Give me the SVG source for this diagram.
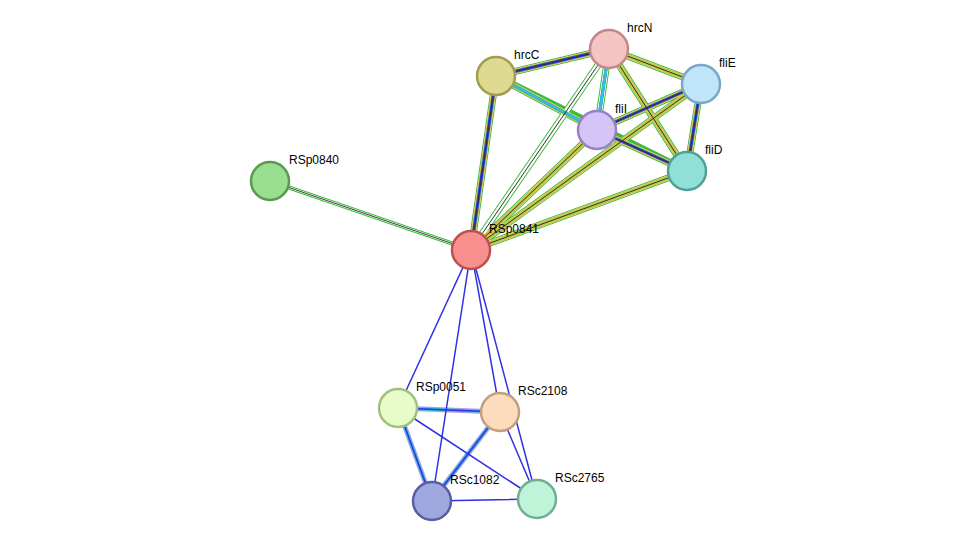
<svg xmlns="http://www.w3.org/2000/svg" width="976" height="547" viewBox="0 0 976 547">
<style>
.n{stroke-width:2.5}
text{font-family:"Liberation Sans",Arial,sans-serif;font-size:12px;fill:#000}
.g{stroke:#3cbc3c;stroke-width:7}
.y{stroke:#c8c848;stroke-width:5}
.b{stroke:#3838e0;stroke-width:3}
.k{stroke:#303030;stroke-width:1}
.c{stroke:#30c0d8;stroke-width:3}
.l{stroke:#b0a0e8;stroke-width:5}
.s{stroke:#3030e8;stroke-width:1.5}
</style>
<rect width="976" height="547" fill="#fff"/>
<g id="connectors" fill="none">
<g id="e-top">
<path class="g" d="M471,250L496,76M471,250L609,49M471,250L597,130M471,250L701,84M471,250L687,171M496,76L609,49M496,76L597,130M609,49L597,130M609,49L701,84M609,49L687,171M597,130L701,84M597,130L687,171M701,84L687,171M496,76L687,171"/>
<path stroke="#fff" stroke-width="5" d="M471,250L496,76M471,250L609,49M471,250L597,130M471,250L701,84M471,250L687,171M496,76L609,49M496,76L597,130M609,49L597,130M609,49L701,84M609,49L687,171M597,130L701,84M597,130L687,171M701,84L687,171"/>
<path class="y" stroke-width="4" d="M471,250L496,76M471,250L597,130M471,250L701,84M471,250L687,171M496,76L609,49M496,76L597,130M609,49L701,84M609,49L687,171M597,130L701,84M597,130L687,171M701,84L687,171"/>
<path class="b" d="M471,250L496,76M496,76L609,49M496,76L597,130M609,49L597,130M597,130L701,84M597,130L687,171M701,84L687,171"/>
<path class="c" stroke-width="1.5" d="M496,76L597,130M609,49L597,130"/>
<path class="k" d="M471,250L496,76M471,250L609,49M471,250L597,130M471,250L701,84M471,250L687,171M496,76L609,49M609,49L701,84M609,49L687,171M597,130L701,84M597,130L687,171M701,84L687,171"/>
</g>
<path stroke="#3cbc3c" stroke-width="4" d="M471,250L270,181"/>
<path stroke="#fff" stroke-width="2" d="M471,250L270,181"/>
<path stroke="#404040" stroke-width="1" d="M471,250L270,181"/>
<g id="e-bottom">
<path class="l" d="M398,408L500,412M398,408L432,501M500,412L432,501"/>
<path class="c" d="M398,408L500,412M398,408L432,501M500,412L432,501"/>
<path class="s" d="M398,408L500,412M398,408L432,501M500,412L432,501M471,250L398,408M471,250L432,501M471,250L500,412M471,250L537,499M398,408L537,499M500,412L537,499M432,501L537,499"/>
</g>
</g>
<g id="hrcN"><circle class="n" cx="609" cy="49" r="19" fill="#f7c4c4" stroke="#c08888"/><text x="627" y="32">hrcN</text></g>
<g id="hrcC"><circle class="n" cx="496" cy="76" r="19" fill="#dedb90" stroke="#a09c50"/><text x="514" y="59">hrcC</text></g>
<g id="fliE"><circle class="n" cx="701" cy="84" r="19" fill="#c0e4f8" stroke="#78a8c8"/><text x="719" y="67">fliE</text></g>
<g id="fliI"><circle class="n" cx="597" cy="130" r="19" fill="#d4c4f8" stroke="#9880c8"/><text x="615" y="113">fliI</text></g>
<g id="fliD"><circle class="n" cx="687" cy="171" r="19" fill="#90e0d8" stroke="#50a098"/><text x="705" y="154">fliD</text></g>
<g id="RSp0840"><circle class="n" cx="270" cy="181" r="19" fill="#98e090" stroke="#5a9a50"/><text x="289" y="164">RSp0840</text></g>
<g id="RSp0841"><circle class="n" cx="471" cy="250" r="19" fill="#f89090" stroke="#c05050"/><text x="489" y="233">RSp0841</text></g>
<g id="RSp0051"><circle class="n" cx="398" cy="408" r="19" fill="#e8fcc8" stroke="#a0c080"/><text x="416" y="391">RSp0051</text></g>
<g id="RSc2108"><circle class="n" cx="500" cy="412" r="19" fill="#fcdcbc" stroke="#c0a080"/><text x="518" y="395">RSc2108</text></g>
<g id="RSc1082"><circle class="n" cx="432" cy="501" r="19" fill="#a0a8e0" stroke="#5860a0"/><text x="450" y="484">RSc1082</text></g>
<g id="RSc2765"><circle class="n" cx="537" cy="499" r="19" fill="#c0f4d8" stroke="#70b090"/><text x="555" y="482">RSc2765</text></g>
</svg>
